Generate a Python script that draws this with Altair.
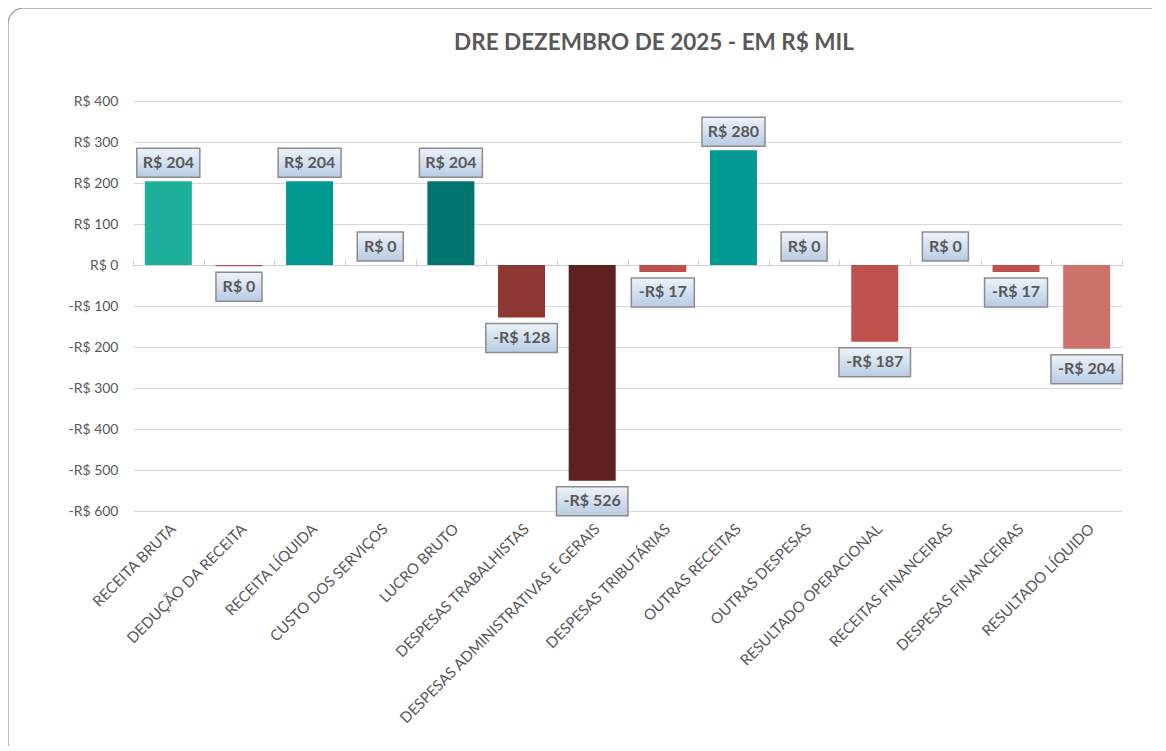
import altair as alt
import pandas as pd

title_text = "DRE DEZEMBRO DE 2025 - EM R$ MIL"
categories = [
    "RECEITA BRUTA", "DEDUÇÃO DA RECEITA", "RECEITA LÍQUIDA", "CUSTO DOS SERVIÇOS",
    "LUCRO BRUTO", "DESPESAS TRABALHISTAS", "DESPESAS ADMINISTRATIVAS E GERAIS",
    "DESPESAS TRIBUTÁRIAS", "OUTRAS RECEITAS", "OUTRAS DESPESAS",
    "RESULTADO OPERACIONAL", "RECEITAS FINANCEIRAS", "DESPESAS FINANCEIRAS",
    "RESULTADO LÍQUIDO",
]
values = [204, -3, 204, 0, 204, -128, -526, -17, 280, 0, -187, 0, -17, -204]
labels = ["R$ 204", "R$ 0", "R$ 204", "R$ 0", "R$ 204", "-R$ 128", "-R$ 526",
          "-R$ 17", "R$ 280", "R$ 0", "-R$ 187", "R$ 0", "-R$ 17", "-R$ 204"]
colors = ["#1DB09A", "#C0504D", "#00998F", "#C0504D", "#007570", "#8E3631",
          "#5E2120", "#C0504D", "#009A93", "#C0504D", "#BF504C", "#C0504D",
          "#C0504D", "#CD716B"]
y_ticks = [-600, -500, -400, -300, -200, -100, 0, 100, 200, 300, 400]

df = pd.DataFrame({"cat": categories, "value": values, "label": labels, "color": colors})

FONT = "Lato"
GREY = "#595959"
PLOT_W, PLOT_H = 989, 410
UNITS_PER_PX = 1000 / PLOT_H

base = alt.Chart(df)

x_scale = alt.Scale(paddingInner=0, paddingOuter=0)

x_main = alt.X(
    "cat:N", sort=categories, title=None, scale=x_scale,
    axis=alt.Axis(labelAngle=-45, domain=False, ticks=False, grid=False,
                  labelFont=FONT, labelFontSize=15, labelColor=GREY,
                  labelPadding=10, labelLimit=400),
)
y_main = alt.Y(
    "value:Q", title=None,
    scale=alt.Scale(domain=[-600, 400], nice=False),
    axis=alt.Axis(values=y_ticks, domain=False, ticks=False, grid=True,
                  gridColor="#D9D9D9", gridWidth=1,
                  labelFont=FONT, labelFontSize=14, labelColor=GREY, labelPadding=15,
                  labelExpr="datum.value < 0 ? '-R$ ' + format(-datum.value, 'd') : 'R$ ' + format(datum.value, 'd')"),
)

x_noaxis = alt.X("cat:N", sort=categories, title=None, axis=None)

bars = base.mark_bar(size=47).encode(
    x=x_main, y=y_main, color=alt.Color("color:N", scale=None)
)

zero_axis = base.mark_tick(opacity=0).encode(
    x=alt.X("cat:N", sort=categories, title=None,
            axis=alt.Axis(orient="top", offset=-164, labels=False, ticks=True,
                          tickBand="extent", tickSize=6, tickColor="#D0D0D0",
                          domain=True, domainColor="#D0D0D0", grid=False, title=None)),
    y=alt.Y("value:Q"),
)

boxes_src = base.transform_calculate(
    ylo=f"datum.value >= 0 ? datum.value + 4*{UNITS_PER_PX} : datum.value - 35*{UNITS_PER_PX}",
    yhi=f"datum.value >= 0 ? datum.value + 33*{UNITS_PER_PX} : datum.value - 6*{UNITS_PER_PX}",
    ymid="(datum.ylo + datum.yhi) / 2",
    bw="12 + 8.5 * length(datum.label)",
)

grad = alt.Gradient(
    gradient="linear", x1=0, x2=0, y1=0, y2=1,
    stops=[alt.GradientStop(color="#EEF3FA", offset=0),
           alt.GradientStop(color="#B8CCE4", offset=1)],
)

boxes = boxes_src.mark_bar(fill=grad, stroke="#8C8C8C", strokeWidth=1.5).encode(
    x=x_noaxis,
    y=alt.Y("ylo:Q"), y2="yhi:Q",
    size=alt.Size("bw:Q", scale=None, legend=None),
)

texts = boxes_src.mark_text(font=FONT, fontSize=16, fontWeight="bold", color=GREY,
                            baseline="middle", align="center").encode(
    x=x_noaxis,
    y=alt.Y("ymid:Q"),
    text="label:N",
)

one = pd.DataFrame({"t": [title_text]})

frame = alt.Chart(one).mark_rect(
    fillOpacity=0, stroke="#A6A6A6", strokeWidth=1.5, cornerRadius=16
).encode(
    x=alt.value(-125), x2=alt.value(1060), y=alt.value(-93), y2=alt.value(720)
)

title = alt.Chart(one).mark_text(
    font=FONT, fontSize=22.5, fontWeight="bold", color=GREY, align="center", baseline="middle"
).encode(text="t:N", x=alt.value(521), y=alt.value(-58))

chart = alt.layer(frame, bars, zero_axis, boxes, texts, title).resolve_axis(
    x="independent"
).properties(
    width=PLOT_W, height=PLOT_H,
    autosize=alt.AutoSizeParams(type="none"),
    padding={"left": 125, "top": 93, "right": 30, "bottom": 235},
).configure_view(stroke=None)

chart.save("out.html", embed_options={"renderer": "svg", "actions": False})
